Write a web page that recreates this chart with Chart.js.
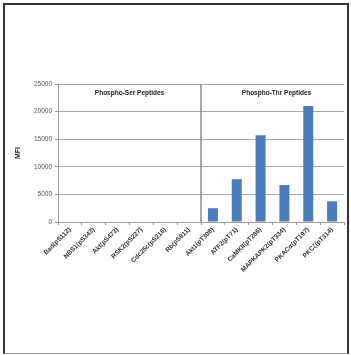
<!DOCTYPE html>
<html>
<head>
<meta charset="utf-8">
<script src="https://cdn.jsdelivr.net/npm/chart.js@4"></script>
<style>
  html, body { margin: 0; padding: 0; background: #fff; }
  #wrap { position: relative; width: 351px; height: 355px; }
  #frame {
    position: absolute; left: 3px; top: 3px; width: 342px; height: 348px;
    border-top: 2px solid #333; border-left: 2px solid #333;
    border-right: 2px solid #333; border-bottom: 1px solid #999;
  }
  canvas { position: absolute; left: 0; top: 0; }
</style>
</head>
<body>
<div id="wrap">
  <div id="frame"></div>
  <canvas id="mfiChart" width="351" height="355"></canvas>
</div>
<script>
// peptide names on the x axis
var serLabels = ['Bad(pS112)', 'NBS1(pS343)', 'Akt(pS473)', 'RSK2(pS227)', 'Cdc25c(pS216)', 'Rb(pS811)'];
var thrLabels = ['Akt1(pT308)', 'ATF2(pT71)', 'CaMKII(pT286)', 'MAPKAPK2(pT334)', 'PKAC\u03b1(pT197)', 'PKC\u03b6(pT314)'];

// MFI values
var serValues = [0, 0, 0, 0, 0, 0];
var thrValues = [2500, 7750, 15700, 6700, 21000, 3750];

var yTicks = [0, 5000, 10000, 15000, 20000, 25000];
var groupTitles = ['Phospho-Ser Peptides', 'Phospho-Thr Peptides'];

const labels = serLabels.concat(thrLabels);
const values = serValues.concat(thrValues);
const fontFamily = '"Liberation Sans", Arial, sans-serif';

const groupPlugin = {
    id: 'groups',
    afterDatasetsDraw(chart) {
        const ctx = chart.ctx;
        const x = chart.scales.x;
        const y = chart.scales.y;
        const area = chart.chartArea;
        const n = serLabels.length;

        // separator between the two groups
        const sepX = (x.getPixelForValue(n - 1) + x.getPixelForValue(n)) / 2;
        ctx.save();
        ctx.strokeStyle = '#8c8c8c';
        ctx.lineWidth = 1.5;
        ctx.beginPath();
        ctx.moveTo(sepX, area.top);
        ctx.lineTo(sepX, area.bottom);
        ctx.stroke();

        // group titles
        ctx.font = 'bold 6.5px ' + fontFamily;
        ctx.fillStyle = '#222';
        ctx.textAlign = 'center';
        ctx.textBaseline = 'middle';
        const ty = y.getPixelForValue(23300);
        const serMid = (x.getPixelForValue(2) + x.getPixelForValue(3)) / 2;
        const thrMid = (x.getPixelForValue(n + 2) + x.getPixelForValue(n + 3)) / 2 + 4;
        ctx.fillText(groupTitles[0], serMid, ty);
        ctx.fillText(groupTitles[1], thrMid, ty);
        ctx.restore();
    }
};

new Chart(document.getElementById('mfiChart').getContext('2d'), {
    type: 'bar',
    data: {
        labels: labels,
        datasets: [{
            data: values,
            backgroundColor: '#4a7ebf',
            borderWidth: 0,
            categoryPercentage: 1,
            barPercentage: 0.42
        }]
    },
    options: {
        responsive: false,
        animation: false,
        layout: { padding: { left: 14, right: 7, top: 84, bottom: 0 } },
        scales: {
            x: {
                offset: true,
                grid: {
                    offset: true,
                    drawOnChartArea: false,
                    drawTicks: true,
                    tickLength: 3,
                    color: '#9a9a9a'
                },
                border: { color: '#9a9a9a', width: 1 },
                ticks: {
                    autoSkip: false,
                    maxRotation: 45,
                    minRotation: 45,
                    padding: 1,
                    color: '#333',
                    font: { family: fontFamily, size: 6.5, weight: 'bold' }
                },
                afterFit: s => { s.height = 133; }
            },
            y: {
                min: 0,
                max: 25000,
                afterBuildTicks: s => { s.ticks = yTicks.map(v => ({ value: v })); },
                grid: {
                    color: '#a8a8a8',
                    borderDash: [3, 2],
                    tickBorderDash: [],
                    tickLength: 3,
                    tickColor: '#9a9a9a'
                },
                border: { color: '#9a9a9a', width: 1 },
                ticks: {
                    padding: 3,
                    color: '#555',
                    font: { family: fontFamily, size: 6.5 },
                    callback: v => String(v)
                },
                title: {
                    display: true,
                    text: 'MFI',
                    color: '#222',
                    padding: 0,
                    font: { family: fontFamily, size: 7, weight: 'bold' }
                },
                afterFit: s => { s.width = 44; }
            }
        },
        plugins: {
            legend: { display: false },
            tooltip: { enabled: false }
        }
    },
    plugins: [groupPlugin]
});
</script>
</body>
</html>
